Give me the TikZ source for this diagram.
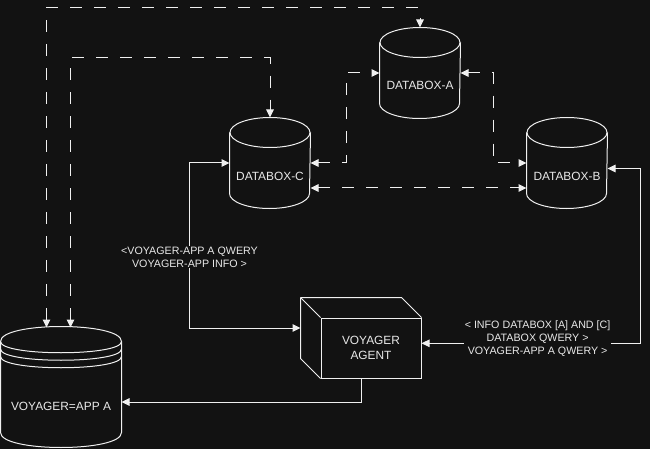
\documentclass[tikz,border=0pt]{standalone}
\usepackage{fontspec}
\setmainfont{Liberation Sans}
\usetikzlibrary{arrows.meta,calc}
\definecolor{bg}{HTML}{121212}
\definecolor{fg}{HTML}{F0F0F0}
\definecolor{txt}{HTML}{E8E8E8}
\tikzset{
  >={Triangle[length=8pt,width=7.5pt]},
  dbnode/.style={rectangle, minimum width=80pt, minimum height=90pt, inner sep=0pt},
  dbtext/.style={font=\fontsize{11.9}{14}\selectfont, text=txt, inner sep=0pt},
  agentbox/.style={rectangle, draw=fg, minimum width=100pt, minimum height=60pt, align=center,
    font=\fontsize{11.9}{14.4}\selectfont, text=txt, inner sep=0pt},
  lab/.style={fill=bg, text=txt, align=center, font=\fontsize{10.7}{13.3}\selectfont,
    inner xsep=1pt, inner ysep=1pt},
  dline/.style={draw=fg, dash pattern=on 12pt off 12pt},
  sline/.style={draw=fg},
}
\newcommand\drawcyl[1]{%
  \draw[fg] ([yshift=-15pt]#1.north west) -- ([yshift=15pt]#1.south west)
    arc[start angle=180,end angle=360,x radius=40pt,y radius=15pt]
    -- ([yshift=-15pt]#1.north east);
  \draw[fg] ([yshift=-15pt]#1.north) ellipse[x radius=40pt, y radius=15pt];}
\begin{document}
\begin{tikzpicture}[x=1pt,y=-1pt,line width=1pt,line join=miter]
\fill[bg] (0,0) rectangle (650,449);
\useasboundingbox (0,0) rectangle (650,449);

% databoxes
\node[dbnode, label={[dbtext,yshift=-12pt]center:DATABOX-A}] (dA) at (420,73) {};
\node[dbnode, label={[dbtext,yshift=-13pt]center:DATABOX-C}] (dC) at (270,163) {};
\node[dbnode, label={[dbtext,yshift=-13pt]center:DATABOX-B}] (dB) at (567,163) {};
\drawcyl{dA}
\drawcyl{dC}
\drawcyl{dB}

% voyager app datastore
\node[rectangle, minimum width=120pt, minimum height=120pt, inner sep=0pt,
  label={[dbtext,yshift=-19.5pt]center:VOYAGER=APP A}] (va) at (61,387) {};
\draw[fg] ($(va.north west)+(0,15)$) .. controls ($(va.north west)+(0,-5)$) and ($(va.north east)+(0,-5)$) .. ($(va.north east)+(0,15)$)
  -- ($(va.south east)+(0,-15)$) .. controls ($(va.south east)+(0,5)$) and ($(va.south west)+(0,5)$) .. ($(va.south west)+(0,-15)$) -- cycle;
\foreach \k in {0,7.5,15}{
  \draw[fg] ($(va.north west)+(0,15+\k)$) .. controls ($(va.north west)+(0,30+\k)$) and ($(va.north east)+(0,30+\k)$) .. ($(va.north east)+(0,15+\k)$);
}

% agent cube
\node[agentbox] (agent) at (371,348) {VOYAGER\\AGENT};
\coordinate (bk) at ([xshift=-20pt,yshift=20pt]agent.north west);
\draw[fg] (bk) -- ([xshift=-20pt,yshift=20pt]agent.north east) -- (agent.north east);
\draw[fg] (bk) -- ([xshift=-20pt,yshift=20pt]agent.south west) -- (agent.south west);
\draw[fg] (bk) -- (agent.north west);
\coordinate (agentL) at ([xshift=-20pt,yshift=20pt]agent.west);

% dashed connectors
\draw[dline,<->] ([xshift=-14.5pt,yshift=-1pt]va.north) -- ++(0,-320) -| (dA.north);
\draw[dline,<->] ([xshift=9.5pt,yshift=-1pt]va.north) -- ++(0,-270) -| (dC.north);
\draw[dline,<->] (dC.east) -- ++(36,0) |- (dA.west);
\draw[dline,<->] (dA.east) -- ++(33,0) |- (dB.west);
\draw[dline,<->] ([yshift=-25pt]dC.east) -- ([yshift=-25pt]dB.west);

% solid connectors
\draw[sline,<->] (dC.west) -- ++(-40,0) -- ++(0,165)
  node[lab,pos=0.57] (l1) {<VOYAGER-APP A QWERY\\VOYAGER-APP INFO >} -- (agentL);
\draw[sline,<->] ([yshift=-5.5pt]dB.east) -- ++(33,0) |- ([yshift=4.7pt]agent.east)
  node[lab,pos=0.735,yshift=4.6pt] (l2) {< INFO DATABOX [A] AND [C]\\DATABOX QWERY >\\VOYAGER-APP A QWERY >};
\draw[sline,->] ([xshift=-10pt]agent.south) |- ([yshift=-15pt]va.east);
\end{tikzpicture}
\end{document}
